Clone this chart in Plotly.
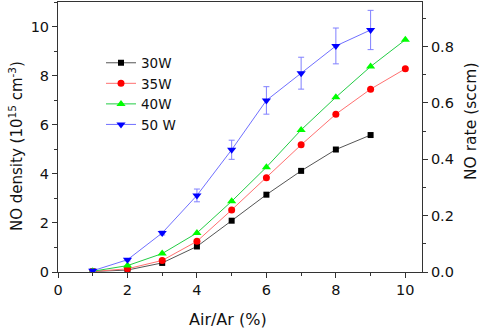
import plotly.graph_objects as go

x_air = [1, 2, 3, 4, 5, 6, 7, 8, 9, 10]
no_30w = [0.02, 0.08, 0.37, 1.04, 2.09, 3.15, 4.12, 4.99, 5.58]
no_35w = [0.02, 0.13, 0.47, 1.25, 2.53, 3.84, 5.18, 6.43, 7.45, 8.28]
no_40w = [0.03, 0.26, 0.75, 1.59, 2.88, 4.27, 5.79, 7.12, 8.37, 9.46]
no_50w = [0.05, 0.50, 1.59, 3.12, 4.98, 6.99, 8.10, 9.21, 9.86]
err_50w = [0.03, 0.05, 0.08, 0.26, 0.39, 0.56, 0.65, 0.73, 0.80]
series_names = ["30W", "35W", "40W", "50 W"]

FONT = "DejaVu Sans, Liberation Sans, Arial, sans-serif"
TXT = "#111111"

fig = go.Figure()
fig.add_trace(go.Scatter(x=x_air[:len(no_30w)], y=no_30w, name=series_names[0], mode="lines+markers",
                         line=dict(color="#555555", width=1),
                         marker=dict(symbol="square", size=6, color="#000000")))
fig.add_trace(go.Scatter(x=x_air[:len(no_35w)], y=no_35w, name=series_names[1], mode="lines+markers",
                         line=dict(color="#ff7070", width=1),
                         marker=dict(symbol="circle", size=7, color="#ff0000")))
fig.add_trace(go.Scatter(x=x_air[:len(no_40w)], y=no_40w, name=series_names[2], mode="lines+markers",
                         line=dict(color="#22cc44", width=1),
                         marker=dict(symbol="triangle-up", size=8, color="#00ff00")))
fig.add_trace(go.Scatter(x=x_air[:len(no_50w)], y=no_50w, name=series_names[3], mode="lines+markers",
                         line=dict(color="#7070ff", width=1),
                         marker=dict(symbol="triangle-down", size=8, color="#0000ff"),
                         error_y=dict(type="data", array=err_50w, color="#8080ff", thickness=1, width=3)))
fig.add_trace(go.Scatter(x=[], y=[], yaxis="y2", showlegend=False, hoverinfo="skip"))

axis_common = dict(showline=True, linecolor="#333333", linewidth=1, ticks="outside", ticklen=5,
                   tickcolor="#333333", showgrid=False, zeroline=False, automargin=False,
                   tickfont=dict(family=FONT, size=14.5, color=TXT))
minor_common = dict(ticks="outside", ticklen=3, tickcolor="#333333")

L, R, T, B = 58, 62, 2, 59
W, H = 484, 331
pw, ph = W - L - R, H - T - B

def px_x(p):
    return (p - L) / pw

def px_y(p):
    return (H - B - p) / ph

fig.update_layout(
    width=W, height=H,
    margin=dict(l=L, r=R, t=T, b=B, autoexpand=False),
    paper_bgcolor="white", plot_bgcolor="white",
    font=dict(family=FONT, size=14, color=TXT),
    xaxis=dict(range=[0, 10.48], dtick=2, tick0=0, mirror=True,
               minor=dict(dtick=1, **minor_common), **axis_common),
    yaxis=dict(range=[0, 11.0], dtick=2, tick0=0, mirror=True,
               minor=dict(dtick=1, **minor_common), **axis_common),
    yaxis2=dict(range=[0, 0.958], dtick=0.2, tick0=0, overlaying="y", side="right", tickformat=".1f",
                minor=dict(dtick=0.1, **minor_common), **axis_common),
    legend=dict(x=px_x(101), y=px_y(47.5), xanchor="left", yanchor="top", bgcolor="rgba(0,0,0,0)",
                font=dict(family=FONT, size=13.5, color=TXT), tracegroupgap=0),
    showlegend=True,
    annotations=[
        dict(text="Air/Ar (%)", xref="paper", yref="paper", x=px_x(228), y=px_y(319),
             xanchor="center", yanchor="middle", showarrow=False,
             font=dict(family=FONT, size=16, color=TXT)),
        dict(text="NO density (10<sup>15</sup> cm<sup>-3</sup>)", xref="paper", yref="paper",
             x=px_x(16), y=px_y(146), xanchor="center", yanchor="middle", showarrow=False,
             textangle=-90, font=dict(family=FONT, size=15, color=TXT)),
        dict(text="NO rate (sccm)", xref="paper", yref="paper",
             x=px_x(471), y=px_y(122), xanchor="center", yanchor="middle", showarrow=False,
             textangle=-90, font=dict(family=FONT, size=15.5, color=TXT)),
    ],
)

fig.write_html("out.html", config={"displayModeBar": False},
               post_script="document.body.style.margin='0';document.body.style.overflow='hidden';")
